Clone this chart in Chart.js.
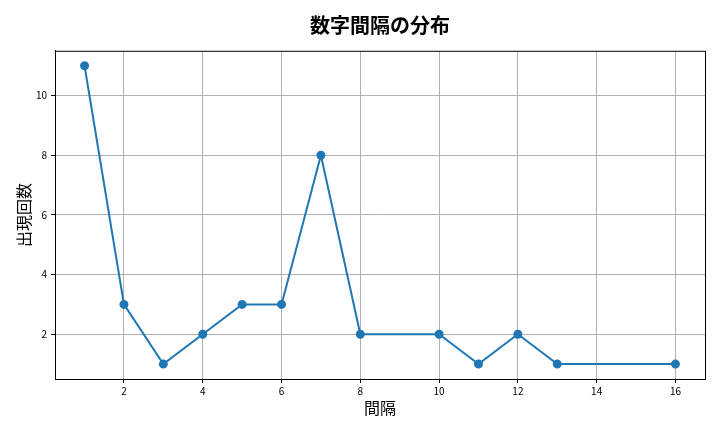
<!DOCTYPE html>
<html>
<head>
<meta charset="utf-8">
<script src="https://cdn.jsdelivr.net/npm/chart.js@4"></script>
<style>
  html, body { margin: 0; padding: 0; background: #fff; }
  #wrap { width: 720px; height: 432px; }
</style>
</head>
<body>
<div id="wrap"><canvas id="chart" width="720" height="432"></canvas></div>
<script>
//-- Data//
const gaps = [1, 2, 3, 4, 5, 6, 7, 8, 10, 11, 12, 13, 16];
const counts = [11, 3, 1, 2, 3, 3, 8, 2, 2, 1, 2, 1, 1];
const xTicks = [2, 4, 6, 8, 10, 12, 14, 16];
const yTicks = [2, 4, 6, 8, 10];
const titleText = '数字間隔の分布';

const fontFamily = '"Noto Sans CJK JP", "Noto Sans", sans-serif';

//-- Black frame around the plot area, title centred over it//
const frame = {
    id: 'frame',
    afterDraw(chart) {
        const a = chart.chartArea;
        const c = chart.ctx;
        c.save();
        c.strokeStyle = '#000';
        c.lineWidth = 1;
        c.strokeRect(a.left + 0.5, a.top + 0.5, a.right - a.left, a.bottom - a.top);
        c.fillStyle = '#000';
        c.font = `bold 20px ${fontFamily}`;
        c.textAlign = 'center';
        c.textBaseline = 'middle';
        c.fillText(titleText, (a.left + a.right) / 2, 25);
        c.restore();
    }
};

const ctx = document.getElementById('chart');
new Chart(ctx, {
    type: 'line',
    data: {
        datasets: [{
            data: gaps.map((g, i) => ({ x: g, y: counts[i] })),
            borderColor: '#1f77b4',
            backgroundColor: '#1f77b4',
            borderWidth: 2,
            pointRadius: 3.5,
            pointHoverRadius: 3.5,
            tension: 0
        }]
    },
    options: {
        responsive: false,
        animation: false,
        layout: { padding: { left: 10, right: 15, bottom: 10 } },
        plugins: {
            legend: { display: false },
            tooltip: { enabled: false },
            title: {
                // space holder only, the text itself is drawn by the frame plugin
                display: true,
                text: titleText,
                color: 'rgba(0,0,0,0)',
                font: { family: fontFamily, size: 19, weight: 'bold' },
                padding: { top: 14, bottom: 14 }
            }
        },
        scales: {
            x: {
                type: 'linear',
                min: 0.25,
                max: 16.75,
                afterBuildTicks: s => { s.ticks = xTicks.map(v => ({ value: v })); },
                afterFit: s => { s.height = 43; },
                grid: { color: '#b0b0b0', tickColor: '#000', tickLength: 4 },
                border: { color: '#000' },
                ticks: { color: '#000', font: { family: fontFamily, size: 10 }, padding: 2, maxRotation: 0 },
                title: {
                    display: true,
                    text: '間隔',
                    color: '#000',
                    font: { family: fontFamily, size: 16 },
                    padding: { top: 0 }
                }
            },
            y: {
                min: 0.5,
                max: 11.5,
                afterBuildTicks: s => { s.ticks = yTicks.map(v => ({ value: v })); },
                afterFit: s => { s.width = 45; },
                grid: { color: '#b0b0b0', tickColor: '#000', tickLength: 4 },
                border: { color: '#000' },
                ticks: { color: '#000', font: { family: fontFamily, size: 10 }, padding: 4 },
                title: {
                    display: true,
                    text: '出現回数',
                    color: '#000',
                    font: { family: fontFamily, size: 16 },
                    padding: { bottom: 2 }
                }
            }
        }
    },
    plugins: [frame]
});
</script>
</body>
</html>
